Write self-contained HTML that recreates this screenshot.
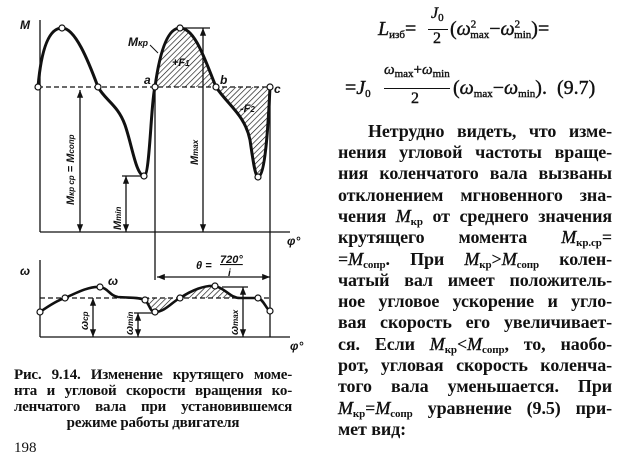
<!DOCTYPE html>
<html><head><meta charset="utf-8"><style>
html,body{margin:0;padding:0;background:#fff;}
body{width:629px;height:463px;position:relative;overflow:hidden;font-family:"Liberation Serif","DejaVu Serif",serif;color:#111;}
.l{position:absolute;left:338px;width:274px;font-size:18px;font-weight:bold;line-height:20px;text-align:justify;text-align-last:justify;white-space:nowrap;letter-spacing:-0.1px;}
.l i{font-weight:normal;-webkit-text-stroke:0.4px #111;}
.c{position:absolute;left:14px;width:278px;font-size:15px;font-weight:bold;line-height:16px;text-align:justify;text-align-last:justify;white-space:nowrap;letter-spacing:-0.2px;}
i{font-style:italic;}
sub{font-size:11px;vertical-align:-3px;line-height:0;}
.f{position:absolute;font-size:20px;white-space:nowrap;-webkit-text-stroke:0.4px #111;}
</style></head><body>
<svg width="629" height="463" style="position:absolute;left:0;top:0" xmlns="http://www.w3.org/2000/svg">
<defs>
<pattern id="h" width="4" height="4" patternUnits="userSpaceOnUse" patternTransform="rotate(45)"><line x1="0" y1="0" x2="0" y2="4" stroke="#111" stroke-width="1.3"/></pattern>
<marker id="ar" viewBox="0 0 10 10" refX="10" refY="5" markerWidth="6" markerHeight="6" orient="auto-start-reverse"><path d="M0,1 L10,5 L0,9 z" fill="#111"/></marker>
</defs>
<g stroke="#111" fill="none" stroke-width="1.3">
<line x1="40" y1="20" x2="40" y2="232"/>
<line x1="40" y1="232" x2="290" y2="232"/>
<line x1="38" y1="87" x2="270" y2="87" stroke-dasharray="5,3"/>
<line x1="155" y1="87" x2="155" y2="280"/>
<line x1="270" y1="87" x2="270" y2="337"/>
<line x1="180" y1="28" x2="210" y2="28"/>
<line x1="203" y1="28" x2="203" y2="232" marker-start="url(#ar)" marker-end="url(#ar)"/>
<line x1="80" y1="90" x2="80" y2="232" marker-start="url(#ar)" marker-end="url(#ar)"/>
<line x1="122" y1="176" x2="143" y2="176"/>
<line x1="126" y1="176" x2="126" y2="232" marker-start="url(#ar)" marker-end="url(#ar)"/>
</g>
<path d="M155,87 C160,50 168,28 180,28 C195,28 205,60 216,87 Z" fill="url(#h)"/>
<path d="M216,87 C228,105 245,115 250,140 C253,160 255,176 258,177 C265,176 268,130 270,87 Z" fill="url(#h)"/>
<path d="M38,87 C42,40 52,28 62,28 C75,28 88,60 98,87 C105,100 118,105 125,125 C132,145 136,175 144,176 C150,176 151,100 155,87 C160,50 168,28 180,28 C195,28 205,60 216,87 C228,105 245,115 250,140 C253,160 255,176 258,177 C265,176 268,130 270,87" stroke="#111" stroke-width="3" fill="none"/>
<g fill="#fff" stroke="#111" stroke-width="1.2">
<circle cx="38" cy="87" r="3"/><circle cx="62" cy="28" r="3"/><circle cx="98" cy="87" r="3"/><circle cx="144" cy="176" r="3"/><circle cx="155" cy="87" r="3"/><circle cx="180" cy="28" r="3"/><circle cx="216" cy="87" r="3"/><circle cx="258" cy="177" r="3"/><circle cx="270" cy="87" r="3"/>
</g>
<g stroke="#111" fill="none" stroke-width="1.3">
<line x1="40" y1="260" x2="40" y2="337"/>
<line x1="40" y1="337" x2="290" y2="337"/>
<line x1="40" y1="298" x2="270" y2="298" stroke-dasharray="5,3"/>
<line x1="157" y1="277" x2="270" y2="277" marker-start="url(#ar)" marker-end="url(#ar)"/>
<line x1="222" y1="287" x2="248" y2="287"/>
<line x1="243" y1="287" x2="243" y2="337" marker-start="url(#ar)" marker-end="url(#ar)"/>
<line x1="93" y1="298" x2="93" y2="337" marker-start="url(#ar)" marker-end="url(#ar)"/>
<line x1="134" y1="313" x2="155" y2="313"/>
<line x1="138" y1="313" x2="138" y2="337" marker-start="url(#ar)" marker-end="url(#ar)"/>
</g>
<path d="M143,298 C148,305 150,312 155,312 C165,312 172,302 180,298 Z" fill="url(#h)"/>
<path d="M180,298 C192,290 205,285 215,286 C225,288 230,298 240,298 Z" fill="url(#h)"/>
<path d="M40,312 C50,305 58,300 65,298 C78,292 90,286 100,287 C108,288 110,296 118,297 C128,298 138,297 145,300 C150,305 150,312 155,312 C165,312 172,302 180,298 C192,290 205,285 215,286 C225,288 230,298 240,298 L258,298 C264,300 266,309 270,311" stroke="#111" stroke-width="2.6" fill="none"/>
<g fill="#fff" stroke="#111" stroke-width="1.2">
<circle cx="40" cy="312" r="3"/><circle cx="65" cy="298" r="3"/><circle cx="100" cy="287" r="3"/><circle cx="145" cy="300" r="3"/><circle cx="155" cy="312" r="3"/><circle cx="180" cy="298" r="3"/><circle cx="215" cy="286" r="3"/><circle cx="258" cy="298" r="3"/><circle cx="270" cy="311" r="3"/>
</g>
<g font-family="Liberation Sans, sans-serif" font-style="italic" font-weight="bold" font-size="12" fill="#111">
<text x="20" y="29">M</text>
<text x="128" y="46">M<tspan font-size="9">кр</tspan></text>
<line x1="150" y1="45" x2="158" y2="53" stroke="#111"/>
<text x="172" y="66" font-size="11">+F<tspan font-size="8">1</tspan></text>
<text x="240" y="112" font-size="11">-F<tspan font-size="8">2</tspan></text>
<text x="144" y="84">a</text>
<text x="220" y="84">b</text>
<text x="274" y="93">c</text>
<text x="287" y="245">φ°</text>
<text x="290" y="350">φ°</text>
<text x="20" y="275">ω</text>
<text x="108" y="285">ω</text>
<text x="196" y="269" font-size="11">θ = </text>
<text x="220" y="263" font-size="11" text-decoration="underline">720°</text>
<text x="228" y="276" font-size="10">i</text>
<text transform="translate(74,205) rotate(-90)" font-size="11">M<tspan font-size="8">кр ср</tspan> = M<tspan font-size="8">сопр</tspan></text>
<text transform="translate(121,230) rotate(-90)" font-size="11">M<tspan font-size="8">min</tspan></text>
<text transform="translate(198,165) rotate(-90)" font-size="11">M<tspan font-size="8">max</tspan></text>
<text transform="translate(88,330) rotate(-90)" font-size="11">ω<tspan font-size="8">ср</tspan></text>
<text transform="translate(133,335) rotate(-90)" font-size="11">ω<tspan font-size="8">min</tspan></text>
<text transform="translate(238,335) rotate(-90)" font-size="11">ω<tspan font-size="8">max</tspan></text>
</g>
</svg>

<div class="f" style="left:378px;top:18px;"><i>L</i><sub>изб</sub>=</div>
<div class="f" style="left:431px;top:5px;font-size:16px;"><i>J</i><sub>0</sub></div>
<div style="position:absolute;left:428px;top:29px;width:20px;border-top:1px solid #111;"></div>
<div class="f" style="left:433px;top:30px;font-size:16px;">2</div>
<div class="f" style="left:450px;top:18px;">(<i>ω</i><sup style="font-size:11px">2</sup><sub style="margin-left:-6px">max</sub>−<i>ω</i><sup style="font-size:11px">2</sup><sub style="margin-left:-6px">min</sub>)=</div>

<div class="f" style="left:345px;top:77px;">=<i>J</i><sub>0</sub></div>
<div class="f" style="left:384px;top:62px;font-size:15px;"><i>ω</i><sub>max</sub>+<i>ω</i><sub>min</sub></div>
<div style="position:absolute;left:384px;top:88px;width:66px;border-top:1px solid #111;"></div>
<div class="f" style="left:411px;top:90px;font-size:16px;">2</div>
<div class="f" style="left:453px;top:77px;">(<i>ω</i><sub>max</sub>−<i>ω</i><sub>min</sub>).&nbsp; (9.7)</div>

<div class="l" style="top:121px;left:368px;width:244px;">Нетрудно видеть, что изме-</div>
<div class="l" style="top:142px;">нения угловой частоты враще-</div>
<div class="l" style="top:163px;">ния коленчатого вала вызваны</div>
<div class="l" style="top:185px;">отклонением мгновенного зна-</div>
<div class="l" style="top:206px;">чения <i>M</i><sub>кр</sub> от среднего значения</div>
<div class="l" style="top:227px;">крутящего момента <i>M</i><sub>кр.ср</sub>=</div>
<div class="l" style="top:249px;">=<i>M</i><sub>сопр</sub>. При <i>M</i><sub>кр</sub>&gt;<i>M</i><sub>сопр</sub> колен-</div>
<div class="l" style="top:270px;">чатый вал имеет положитель-</div>
<div class="l" style="top:291px;">ное угловое ускорение и угло-</div>
<div class="l" style="top:312px;">вая скорость его увеличивает-</div>
<div class="l" style="top:334px;">ся. Если <i>M</i><sub>кр</sub>&lt;<i>M</i><sub>сопр</sub>, то, наобо-</div>
<div class="l" style="top:355px;">рот, угловая скорость коленча-</div>
<div class="l" style="top:376px;">того вала уменьшается. При</div>
<div class="l" style="top:398px;"><i>M</i><sub>кр</sub>=<i>M</i><sub>сопр</sub> уравнение (9.5) при-</div>
<div class="l" style="top:419px;text-align-last:left;">мет вид:</div>

<div class="c" style="top:367px;">Рис. 9.14. Изменение крутящего моме-</div>
<div class="c" style="top:383px;">нта и угловой скорости вращения ко-</div>
<div class="c" style="top:399px;">ленчатого вала при установившемся</div>
<div class="c" style="top:415px;text-align:center;text-align-last:center;">режиме работы двигателя</div>
<div style="position:absolute;left:14px;top:440px;font-size:15px;">198</div>
</body></html>
